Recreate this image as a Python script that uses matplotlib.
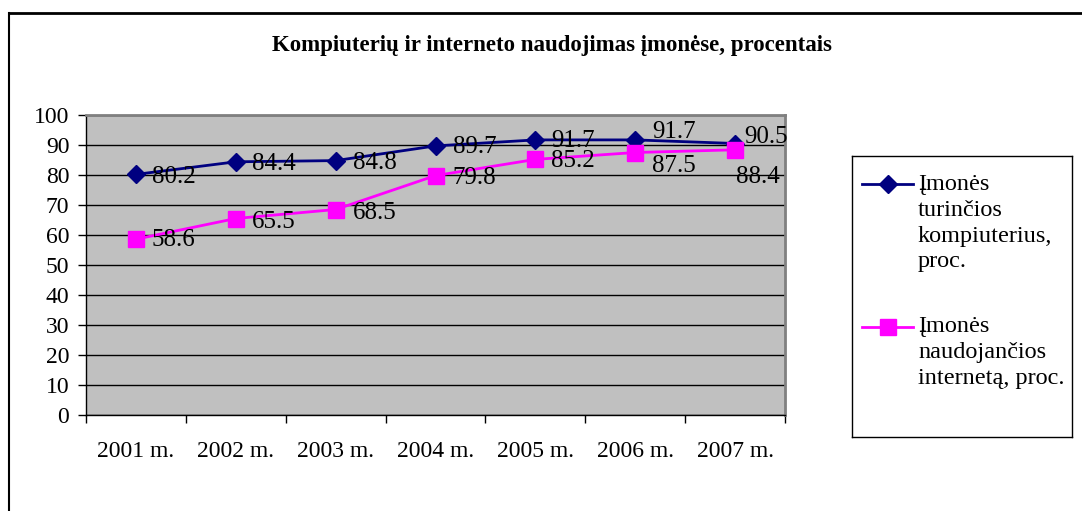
import matplotlib
matplotlib.use('Agg')
import matplotlib.pyplot as plt
from matplotlib.lines import Line2D

years = ['2001 m.', '2002 m.', '2003 m.', '2004 m.', '2005 m.', '2006 m.', '2007 m.']
kompiuteriai = [80.2, 84.4, 84.8, 89.7, 91.7, 91.7, 90.5]
internetas = [58.6, 65.5, 68.5, 79.8, 85.2, 87.5, 88.4]
label_komp = 'Įmonės\nturinčios\nkompiuterius,\nproc.'
label_int = 'Įmonės\nnaudojančios\ninternetą, proc.'
title = 'Kompiuterių ir interneto naudojimas įmonėse, procentais'

# label offsets in pixels (dx, dy down), like Excel placed them
off_komp = [(16, 0), (16, 0), (17, 0), (17, -1), (16, -1), (17, -10), (9, -9)]
off_int = [(16, -2), (16, 1), (17, 1), (17, 0), (16, -1), (17, 11), (1, 25)]

plt.rcParams['font.family'] = ['Liberation Serif', 'DejaVu Serif']

W, H = 1082, 511
fig = plt.figure(figsize=(W / 100, H / 100), dpi=100)

ax = fig.add_axes([86 / W, 1 - 415 / H, 699 / W, 300 / H])
ax.set_facecolor('#c0c0c0')

x = list(range(len(years)))
ax.plot(x, kompiuteriai, color='#000080', lw=2, marker='D', ms=9.5, zorder=3)
ax.plot(x, internetas, color='#ff00ff', lw=2, marker='s', ms=12, zorder=3)

for i in x:
    dx, dy = off_komp[i]
    ax.annotate(f'{kompiuteriai[i]:.1f}', (i, kompiuteriai[i]), xytext=(dx, -dy),
                textcoords='offset pixels', ha='left', va='center_baseline',
                fontsize=18, zorder=4)
    dx, dy = off_int[i]
    ax.annotate(f'{internetas[i]:.1f}', (i, internetas[i]), xytext=(dx, -dy),
                textcoords='offset pixels', ha='left', va='center_baseline',
                fontsize=18, zorder=4)

ax.set_xlim(-0.5, len(years) - 0.5)
ax.set_ylim(0, 100)
ax.set_yticks(range(0, 101, 10))
ax.yaxis.grid(True, color='black', lw=1)
ax.set_axisbelow(True)
ax.tick_params(axis='y', direction='out', length=6, width=1, pad=6, labelsize=17)

ax.set_xticks([i - 0.5 for i in range(len(years) + 1)])
ax.set_xticklabels([])
ax.set_xticks(x, minor=True)
ax.set_xticklabels(years, minor=True, fontsize=17)
ax.tick_params(axis='x', which='major', direction='out', length=6, width=1)
ax.tick_params(axis='x', which='minor', length=0, pad=19)

for s in ['top', 'right']:
    ax.spines[s].set_color('#808080')
    ax.spines[s].set_linewidth(2)
for s in ['left', 'bottom']:
    ax.spines[s].set_color('black')
    ax.spines[s].set_linewidth(1)

fig.text(0.5 * (255 + 848) / W, 1 - 45 / H, title, ha='center', va='center',
         fontsize=16.5, fontweight='bold')

# legend box
lg = fig.add_axes([852 / W, 1 - 437 / H, 220 / W, 281 / H])
lg.set_xlim(0, 220)
lg.set_ylim(281, 0)
lg.set_xticks([])
lg.set_yticks([])
for s in lg.spines.values():
    s.set_color('black')
    s.set_linewidth(1)
lg.plot([10, 61], [28, 28], color='#000080', lw=2)
lg.plot([35.5], [28], color='#000080', marker='D', ms=9.5)
lg.plot([10, 61], [171, 171], color='#ff00ff', lw=2)
lg.plot([35.5], [171], color='#ff00ff', marker='s', ms=12)
lg.text(66, 18, label_komp, ha='left', va='top', fontsize=17.5, linespacing=1.3)
lg.text(66, 160, label_int, ha='left', va='top', fontsize=17.5, linespacing=1.3)

# outer chart border (top and left visible)
fig.add_artist(Line2D([9 / W, 1], [1 - 13 / H, 1 - 13 / H], transform=fig.transFigure,
                      color='black', lw=2))
fig.add_artist(Line2D([9 / W, 9 / W], [0, 1 - 13 / H], transform=fig.transFigure,
                      color='black', lw=1.5))

fig.savefig('out.png', dpi=100)
